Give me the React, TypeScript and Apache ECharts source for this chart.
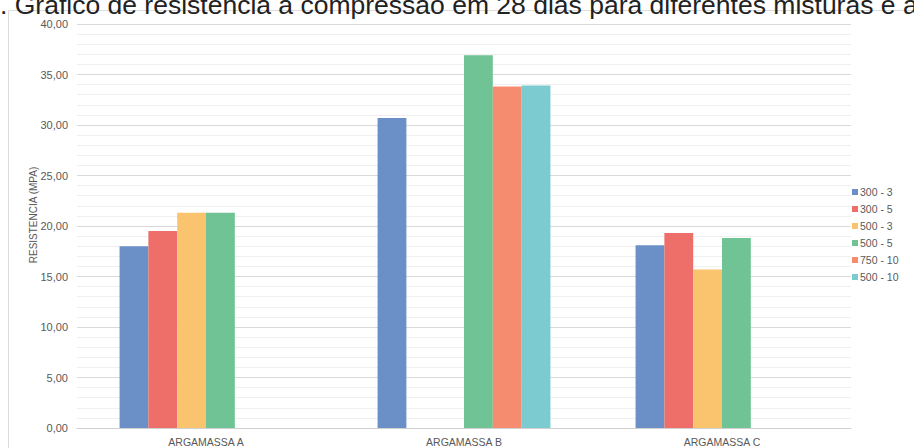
import React, { useEffect, useRef } from "react";
import * as echarts from "echarts";

const categories = ["ARGAMASSA A", "ARGAMASSA B", "ARGAMASSA C"];
const seriesNames = ["300 - 3", "300 - 5", "500 - 3", "500 - 5", "750 - 10", "500 - 10"];
const s300_3 = [18.0, 30.7, 18.1];
const s300_5 = [19.5, null, 19.3];
const s500_3 = [21.3, null, 15.7];
const s500_5 = [21.3, 36.9, 18.8];
const s750_10 = [null, 33.8, null];
const s500_10 = [null, 33.9, null];
const seriesData = [s300_3, s300_5, s500_3, s500_5, s750_10, s500_10];
const colors = ["#6b8fc7", "#ee6f69", "#fac46f", "#6fc394", "#f58b6f", "#7ccbd0"];

const titleText = ". Gráfico de resistência à compressão em 28 dias para diferentes misturas e a";
const yAxisName = "RESISTENCIA (MPA)";

const FONT = "'Liberation Sans', Arial, sans-serif";

export default function App() {
  const ref = useRef<HTMLDivElement>(null);
  useEffect(() => {
    if (!ref.current) return;
    const chart = echarts.init(ref.current, undefined, { renderer: "svg" });
    chart.setOption({
      animation: false,
      backgroundColor: "#ffffff",
      textStyle: { fontFamily: FONT },
      color: colors,
      grid: { left: 77, right: 63, top: 24, bottom: 20, containLabel: false },
      legend: {
        orient: "vertical",
        left: 847,
        top: 181,
        icon: "rect",
        itemWidth: 6,
        itemHeight: 6,
        itemGap: 5,
        textStyle: { color: "#595959", fontSize: 10.5, fontFamily: FONT, lineHeight: 12, padding: [0, 0, 0, -3] },
        data: seriesNames,
      },
      xAxis: {
        type: "category",
        data: categories,
        axisTick: { show: false },
        axisLine: { lineStyle: { color: "#d0d0d0", width: 1 } },
        axisLabel: { color: "#595959", fontSize: 10.5, fontFamily: FONT, margin: 8 },
      },
      yAxis: {
        type: "value",
        min: 0,
        max: 40,
        interval: 5,
        axisLine: { show: false },
        axisTick: { show: false },
        axisLabel: {
          color: "#595959",
          fontSize: 11,
          fontFamily: FONT,
          margin: 9,
          formatter: (v: number) => v.toFixed(2).replace(".", ","),
        },
        splitLine: { show: true, lineStyle: { color: "#d9d9d9", width: 1 } },
        minorTick: { show: false, splitNumber: 5 },
        minorSplitLine: { show: true, lineStyle: { color: "#efefef", width: 1 } },
      },
      graphic: [
        {
          type: "rect",
          shape: { x: 8.5, y: 10.5, width: 1200, height: 800 },
          style: { fill: "none", stroke: "#dcdcdc", lineWidth: 1 },
          silent: true,
          z: -10,
        },
        {
          type: "text",
          x: 0,
          y: 5,
          style: {
            text: titleText,
            fontSize: 26.5,
            fontFamily: FONT,
            fill: "#222222",
            align: "left",
            verticalAlign: "middle",
          },
        },
        {
          type: "text",
          x: 33,
          y: 215,
          rotation: Math.PI / 2,
          style: {
            text: yAxisName,
            fontSize: 10,
            fontFamily: FONT,
            fill: "#595959",
            align: "center",
            verticalAlign: "middle",
          },
        },
      ],
      series: seriesNames.map((name, i) => ({
        name,
        type: "bar",
        data: seriesData[i],
        barGap: "0%",
        barCategoryGap: "33%",
        itemStyle: { color: colors[i] },
      })),
    });
    return () => chart.dispose();
  }, []);
  return <div ref={ref} style={{ position: "absolute", left: 0, top: 0, width: 914, height: 448 }} />;
}
